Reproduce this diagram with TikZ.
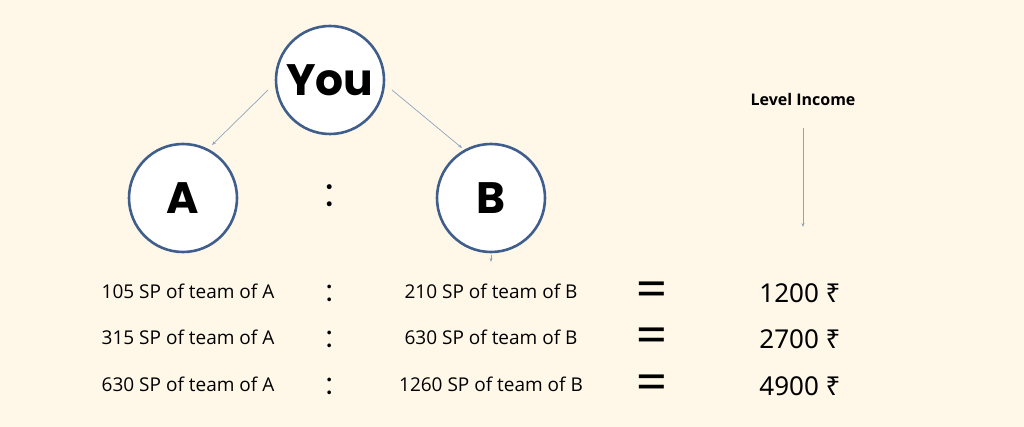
\documentclass[tikz,border=0pt]{standalone}
\usepackage{fontspec}
\setmainfont{Open Sans}
\newfontfamily\rup{Noto Sans}
\newfontfamily\pop{Poppins}
\newfontfamily\popm{Poppins Medium}
\usetikzlibrary{arrows.meta}
\definecolor{bg}{HTML}{FFF8E8}
\definecolor{ring}{HTML}{3F5E8C}
\definecolor{arr}{HTML}{8FA3C0}
\begin{document}
\begin{tikzpicture}[x=1pt,y=-1pt,
  circ/.style={circle,draw=ring,line width=2.6pt,fill=white,minimum size=108pt,inner sep=0pt,font=\pop\fontsize{44}{48}\selectfont\bfseries},
  row/.style={font=\fontsize{19}{22}\selectfont},
  big/.style={font=\pop\fontsize{48}{48}\selectfont},
  val/.style={font=\rup\fontsize{26}{28}\selectfont},
  con/.style={draw=arr,line width=0.7pt,-{Stealth[length=4pt,width=3pt]}}]
\fill[bg] (0,0) rectangle (1024,427);
\useasboundingbox (0,0) rectangle (1024,427);
\node[circ] (you) at (330,80) {You};
\node[circ] (a) at (183,198) {A};
\node[circ] (b) at (491,198) {B};
\node[font=\pop\fontsize{40}{40}\selectfont] (c0) at (330,196) {:};
\coordinate (y1) at (268,90); \coordinate (a1) at (212,145);
\coordinate (y2) at (392,90); \coordinate (b1) at (462,148);
\draw[con] (y1) -- (a1);
\draw[con] (y2) -- (b1);
\coordinate (b2) at (491,255); \coordinate (b3) at (491,262);
\draw[con] (b2) -- (b3);
\node[font=\fontsize{16}{18}\selectfont\bfseries] (li) at (803,100) {Level Income};
\coordinate (l1) at (803,128);
\coordinate (l2) at (803,227);
\draw[con] (l1) -- (l2);
\foreach \y/\l/\r/\v [count=\i] in {291/105/210/1200,337/315/630/2700,384/630/1260/4900}{
  \node[row] (l\i) at (188,\y) {\l\ SP of team of A};
  \node[font=\pop\fontsize{30}{30}\selectfont] (c\i) at (330,\y+2) {:};
  \node[row] (r\i) at (491,\y) {\r\ SP of team of B};
  \node[big] (e\i) at (652,\y+3) {=};
  \node[val] (v\i) at (800,\y+2) {\v\ ₹};
}
\end{tikzpicture}
\end{document}
